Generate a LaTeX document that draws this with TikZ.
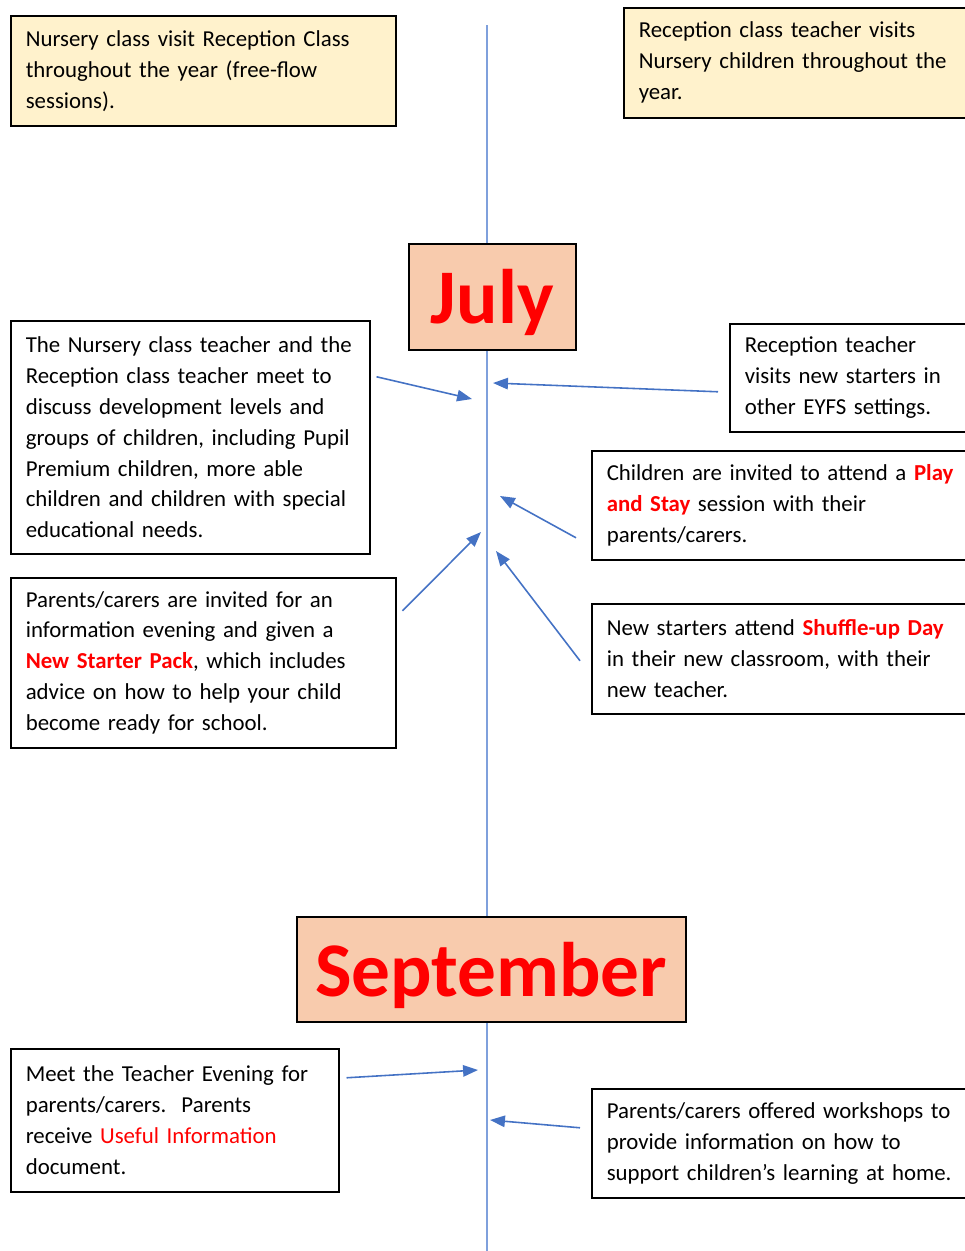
\documentclass[tikz,border=0pt]{standalone}
\usepackage{fontspec}
\setmainfont{Carlito}
\usepackage{xcolor}
\usetikzlibrary{arrows.meta}

\definecolor{notefill}{HTML}{FFF2CC}
\definecolor{monthfill}{HTML}{F8CBAD}
\definecolor{linkblue}{HTML}{4472C4}
\definecolor{lineblue}{HTML}{7FA0DC}
\newcommand{\hilite}[1]{\textcolor{red}{\textbf{#1}}}

\begin{document}
\begin{tikzpicture}[
            x=0.02cm, y=-0.02cm,
            box/.style={draw, rectangle, line width=0.9pt, anchor=north west, align=left,
                inner xsep=0.3cm, inner ysep=0pt, font=\fontsize{13}{17.6}\selectfont},
            note/.style={box, fill=notefill},
            month/.style={draw, rectangle, line width=0.9pt, anchor=north west, fill=monthfill,
                text=red, text depth=0pt, font=\fontsize{44}{44}\selectfont\bfseries},
            link/.style={-{Triangle[length=8.5pt,width=6.5pt]}, linkblue, line width=0.9pt}
            ]
            \useasboundingbox (0,0) rectangle (964,1251);

            % Time line
            \coordinate (ltop) at (487,25);
            \coordinate (lbot) at (487,1251);
            \draw[lineblue, line width=1pt] (ltop) -- (lbot);

            % Nodes with manual coordinates
            \node[note, text width=7.1cm, minimum height=2.2cm] (nursery) at (10,15)
                {Nursery class visit Reception Class\\throughout the year (free-flow\\sessions).};
            \node[note, text width=6.4cm, minimum height=2.2cm] (recvisit) at (623,7)
                {Reception class teacher visits\\Nursery children throughout the\\year.};
            \node[month, minimum width=3.34cm, minimum height=2.12cm] (july) at (408,243) {July};
            \node[box, text width=6.58cm, minimum height=4.66cm] (meet) at (10,320)
                {The Nursery class teacher and the\\Reception class teacher meet to\\discuss development levels and\\groups of children, including Pupil\\Premium children, more able\\children and children with special\\educational needs.};
            \node[box, text width=4.4cm, minimum height=2.16cm] (settings) at (729,323)
                {Reception teacher\\visits new starters in\\other EYFS settings.};
            \node[box, text width=7.1cm, minimum height=2.18cm] (playstay) at (591,450)
                {Children are invited to attend a \hilite{Play}\\\hilite{and Stay} session with their\\parents/carers.};
            \node[box, text width=7.1cm, minimum height=3.4cm] (packinfo) at (10,577)
                {Parents/carers are invited for an\\information evening and given a\\\hilite{New Starter Pack}, which includes\\advice on how to help your child\\become ready for school.};
            \node[box, text width=7.1cm, minimum height=2.2cm] (shuffle) at (591,603)
                {New starters attend \hilite{Shuffle-up Day}\\in their new classroom, with their\\new teacher.};
            \node[month, minimum width=7.78cm, minimum height=2.1cm] (sept) at (296,916) {September};
            \node[box, text width=5.96cm, minimum height=2.86cm] (teachereve) at (10,1048)
                {Meet the Teacher Evening for\\parents/carers.\ \ Parents\\receive \textcolor{red}{Useful Information}\\document.};
            \node[box, text width=7.1cm, minimum height=2.18cm] (workshops) at (591,1088)
                {Parents/carers offered workshops to\\provide information on how to\\support children’s learning at home.};

            % Arrow ends on the time line
            \coordinate (tmeet) at (472,399);
            \coordinate (tsettings) at (493,383);
            \coordinate (tplay) at (500,496);
            \coordinate (tpack) at (481,532);
            \coordinate (tshuffle) at (496,551);
            \coordinate (tevening) at (478,1070);
            \coordinate (tworkshops) at (490,1120);

            % Arrows
            \draw[link] ([shift={(6,-60.5)}]meet.east) -- (tmeet);
            \draw[link] ([shift={(-11,14)}]settings.west) -- (tsettings);
            \draw[link] ([shift={(-15,32.5)}]playstay.west) -- (tplay);
            \draw[link] ([shift={(6,-52)}]packinfo.east) -- (tpack);
            \draw[link] ([shift={(-11,2)}]shuffle.west) -- (tshuffle);
            \draw[link] ([shift={(7,-42.5)}]teachereve.east) -- (tevening);
            \draw[link] ([shift={(-11,-15.5)}]workshops.west) -- (tworkshops);
        \end{tikzpicture}
\end{document}
